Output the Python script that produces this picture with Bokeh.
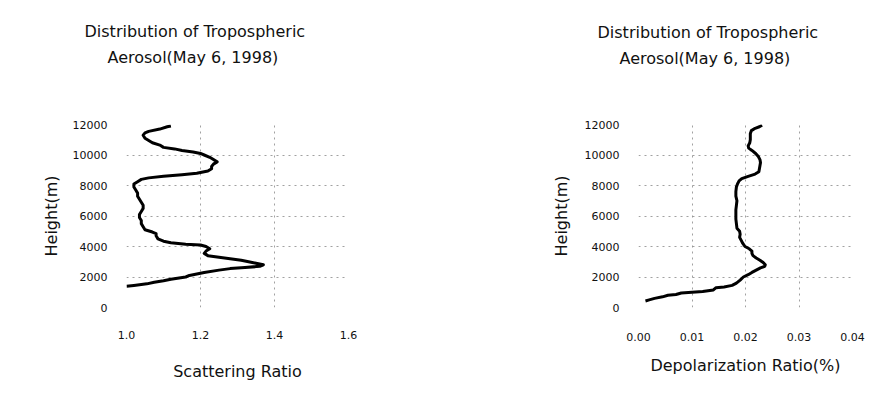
from bokeh.plotting import figure
from bokeh.layouts import row
from bokeh.models import Range1d, FixedTicker, NumeralTickFormatter, ColumnDataSource, Title
from bokeh.embed import file_html
from bokeh.resources import INLINE

# ---- data ----
title_line1 = "Distribution of Tropospheric"
title_line2 = "Aerosol(May 6, 1998)"
y_title = "Height(m)"
left_x_title = "Scattering Ratio"
right_x_title = "Depolarization Ratio(%)"

height_ticks = [0, 2000, 4000, 6000, 8000, 10000, 12000]
scatter_ticks = [1.0, 1.2, 1.4, 1.6]
depol_ticks = [0.0, 0.01, 0.02, 0.03, 0.04]

scatter_height = [11900, 11850, 11700, 11550, 11450, 11300, 11100, 10950, 10800, 10650,
                  10500, 10400, 10300, 10200, 10100, 10000, 9850, 9700, 9550, 9400,
                  9250, 9100, 8950, 8800, 8700, 8600, 8500, 8400, 8250, 8100,
                  7900, 7700, 7500, 7300, 7100, 6900, 6700, 6500, 6300, 6100,
                  5900, 5700, 5500, 5300, 5100, 4950, 4850, 4700, 4500, 4350,
                  4250, 4150, 4100, 4000, 3850, 3700, 3550, 3400, 3300, 3200,
                  3100, 3000, 2900, 2800, 2700, 2620, 2550, 2450, 2300, 2200,
                  2100, 2000, 1850, 1750, 1650, 1550, 1450, 1400]
scatter_ratio = [1.12, 1.11, 1.09, 1.06, 1.05, 1.045, 1.05, 1.06, 1.07, 1.09,
                 1.10, 1.13, 1.15, 1.18, 1.20, 1.21, 1.225, 1.235, 1.245, 1.235,
                 1.23, 1.23, 1.22, 1.19, 1.15, 1.10, 1.06, 1.04, 1.03, 1.02,
                 1.02, 1.025, 1.03, 1.03, 1.035, 1.04, 1.045, 1.045, 1.04, 1.035,
                 1.035, 1.04, 1.04, 1.045, 1.05, 1.07, 1.08, 1.08, 1.085, 1.10,
                 1.12, 1.16, 1.20, 1.215, 1.225, 1.215, 1.21, 1.22, 1.25, 1.28,
                 1.31, 1.33, 1.35, 1.37, 1.36, 1.32, 1.28, 1.25, 1.21, 1.19,
                 1.17, 1.16, 1.12, 1.10, 1.075, 1.055, 1.02, 1.0]

depol_height = [11950, 11850, 11750, 11600, 11400, 11200, 11000, 10800, 10600, 10450,
                10300, 10100, 9900, 9700, 9500, 9300, 9100, 8900, 8750, 8600,
                8450, 8300, 8100, 7900, 7600, 7300, 7000, 6700, 6400, 6100,
                5800, 5500, 5200, 5000, 4800, 4600, 4400, 4200, 4000, 3850,
                3700, 3550, 3400, 3250, 3100, 2950, 2800, 2700, 2600, 2450,
                2300, 2150, 2000, 1800, 1600, 1450, 1350, 1300, 1150, 1050,
                1000, 950, 850, 800, 700, 600, 500, 430]
depol_ratio = [0.0231, 0.0226, 0.0218, 0.0211, 0.0209, 0.0209, 0.0209, 0.0208, 0.0205, 0.0206,
               0.0212, 0.0219, 0.0224, 0.0227, 0.0228, 0.0227, 0.0226, 0.0225, 0.0218, 0.0205,
               0.0193, 0.0188, 0.0185, 0.0183, 0.0182, 0.0182, 0.0184, 0.0183, 0.0182, 0.0182,
               0.0182, 0.0183, 0.0184, 0.0189, 0.0190, 0.0189, 0.0192, 0.0195, 0.0199, 0.0207,
               0.0212, 0.0212, 0.0214, 0.0220, 0.0227, 0.0233, 0.0237, 0.0236, 0.0228, 0.0220,
               0.0212, 0.0205, 0.0196, 0.0190, 0.0183, 0.0175, 0.0160, 0.0145, 0.0140, 0.0120,
               0.0100, 0.0080, 0.0070, 0.0055, 0.0045, 0.0030, 0.0020, 0.0013]

FONT = "DejaVu Sans"
INK = "#111111"


def make_panel(x_vals, y_vals, x_range, x_ticks, x_fmt, x_title, borders,
               off1, off2, gap, stand1, stand2, xstand, xlab_stand, ylab_stand):
    left, right, top, bottom = borders
    p = figure(width=448, height=414, output_backend="svg", toolbar_location=None,
               x_range=Range1d(*x_range), y_range=Range1d(0, 12000),
               min_border_left=left, min_border_right=right,
               min_border_top=top, min_border_bottom=bottom,
               title=None)
    p.outline_line_color = None
    p.background_fill_color = "white"
    p.border_fill_color = "white"
    src = ColumnDataSource(dict(x=x_vals, y=y_vals))
    p.line("x", "y", source=src, line_color="black", line_width=3, line_join="round")

    # blank spacer nearest the frame, then the two title lines outward
    p.add_layout(Title(text=" ", standoff=gap, text_font=FONT, text_font_size="16px"), "above")
    for txt, off, st in ((title_line2, off2, stand2), (title_line1, off1, stand1)):
        p.add_layout(Title(text=txt, align="left", offset=off, standoff=st,
                           text_font=FONT, text_font_size="16px", text_font_style="normal",
                           text_color=INK), "above")

    p.xaxis.ticker = FixedTicker(ticks=x_ticks)
    p.xaxis.formatter = NumeralTickFormatter(format=x_fmt)
    p.yaxis.ticker = FixedTicker(ticks=height_ticks)
    p.yaxis.formatter = NumeralTickFormatter(format="0")
    p.xaxis.axis_label = x_title
    p.yaxis.axis_label = y_title
    for ax in (p.xaxis, p.yaxis):
        ax.axis_line_color = None
        ax.major_tick_line_color = None
        ax.minor_tick_line_color = None
        ax.major_label_text_font = FONT
        ax.major_label_text_font_size = "11px"
        ax.major_label_text_color = INK
        ax.axis_label_text_font = FONT
        ax.axis_label_text_font_size = "16px"
        ax.axis_label_text_font_style = "normal"
        ax.axis_label_text_color = INK
    p.xaxis.major_label_standoff = xstand
    p.yaxis.major_label_standoff = 13
    p.xaxis.axis_label_standoff = xlab_stand
    p.yaxis.axis_label_standoff = ylab_stand

    for g in (p.xgrid, p.ygrid):
        g.grid_line_color = "#8a8a8a"
        g.grid_line_dash = "2 4"
        g.grid_line_alpha = 0.8
        g.grid_line_width = 1
    return p


# borders: left, right, top, bottom (figure starts at page x=0 / x=448)
p1 = make_panel(scatter_ratio, scatter_height, (1.0, 1.6), scatter_ticks, "0.0", left_x_title,
                (126, 100, 124, 103), -42, -19, 34, 4, 6, 17, 20, 9)
p2 = make_panel(depol_ratio, depol_height, (0.0, 0.04), depol_ticks, "0.00", right_x_title,
                (190, 44, 121, 107), -41, -19, 33, 4, 6, 19, 12, 11)

layout = row(p1, p2)
open("out.html", "w").write(file_html(layout, INLINE))
